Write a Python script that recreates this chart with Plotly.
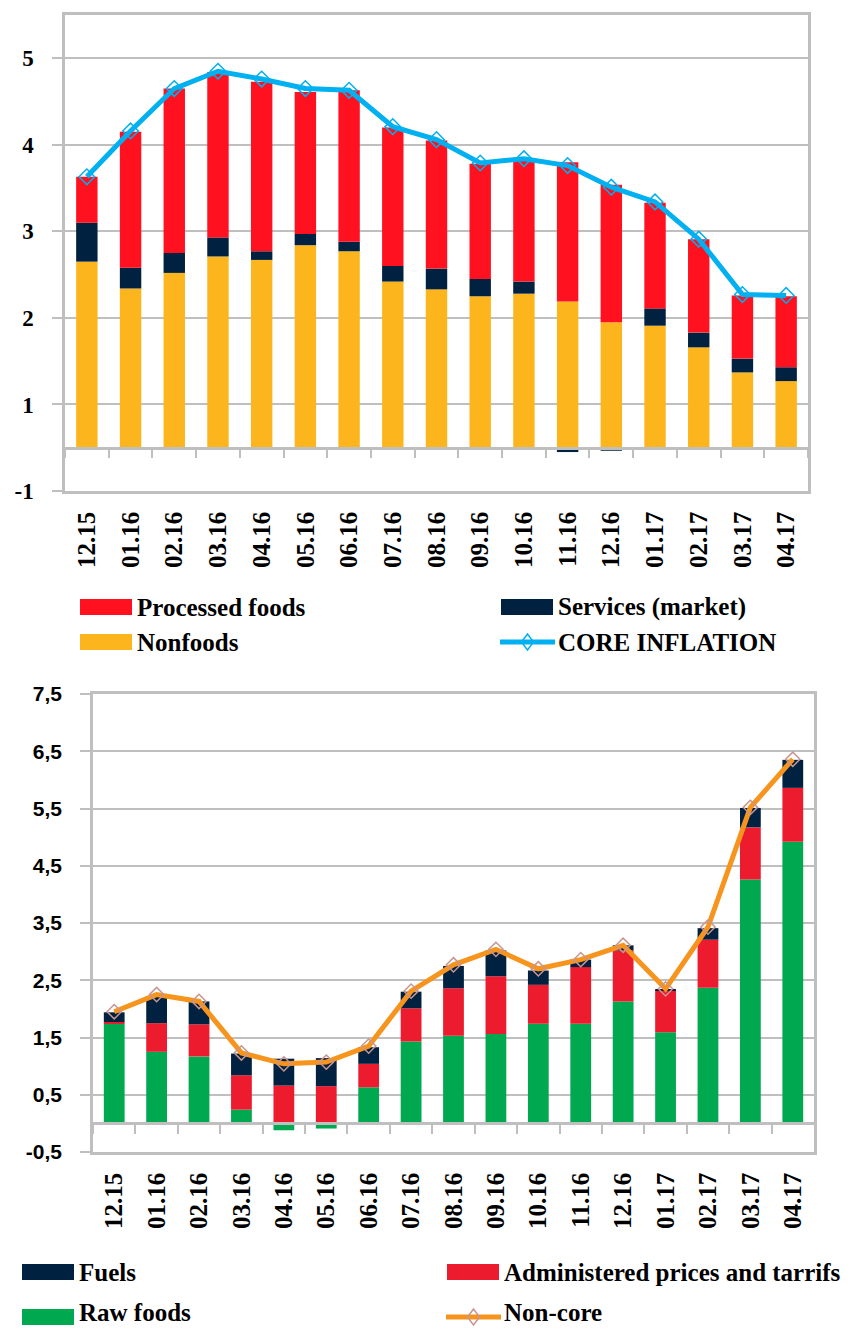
import plotly.graph_objects as go

W, H = 853, 1328

months = ['12.15', '01.16', '02.16', '03.16', '04.16', '05.16', '06.16', '07.16', '08.16',
          '09.16', '10.16', '11.16', '12.16', '01.17', '02.17', '03.17', '04.17']

# core inflation contributions (pp)
nonfoods = [2.15, 1.84, 2.02, 2.21, 2.17, 2.34, 2.27, 1.92, 1.83, 1.75, 1.78, 1.69, 1.45, 1.41, 1.16, 0.87, 0.77]
services = [0.45, 0.24, 0.23, 0.22, 0.10, 0.13, 0.11, 0.18, 0.24, 0.20, 0.14, -0.05, -0.035, 0.20, 0.17, 0.16, 0.16]
processed = [0.53, 1.57, 1.90, 1.91, 1.96, 1.64, 1.75, 1.60, 1.48, 1.33, 1.40, 1.61, 1.59, 1.22, 1.08, 0.73, 0.82]
core = [3.13, 3.66, 4.15, 4.35, 4.26, 4.15, 4.13, 3.71, 3.56, 3.29, 3.34, 3.26, 3.01, 2.84, 2.41, 1.77, 1.76]
core_ticks = [-0.5, 0.5, 1.5, 2.5, 3.5, 4.5]
core_ticktext = ['-1', '1', '2', '3', '4', '5']

# non-core contributions (pp)
raw_foods = [1.74, 1.25, 1.17, 0.24, -0.12, -0.09, 0.63, 1.43, 1.53, 1.56, 1.74, 1.74, 2.13, 1.59, 2.37, 4.26, 4.92]
administered = [0.03, 0.50, 0.56, 0.60, 0.66, 0.65, 0.41, 0.58, 0.83, 1.01, 0.68, 0.99, 0.89, 0.73, 0.84, 0.91, 0.94]
fuels = [0.17, 0.47, 0.40, 0.38, 0.47, 0.49, 0.29, 0.29, 0.39, 0.45, 0.25, 0.13, 0.09, 0.02, 0.20, 0.34, 0.49]
noncore = [1.95, 2.25, 2.13, 1.23, 1.04, 1.07, 1.35, 2.31, 2.77, 3.04, 2.70, 2.86, 3.11, 2.35, 3.43, 5.52, 6.36]
noncore_ticks = [-0.5, 0.5, 1.5, 2.5, 3.5, 4.5, 5.5, 6.5, 7.5]
noncore_ticktext = ['-0,5', '0,5', '1,5', '2,5', '3,5', '4,5', '5,5', '6,5', '7,5']

RED, YELLOW, NAVY, CYAN = '#FF1120', '#FDB51E', '#00213F', '#00B0F0'
GREEN, RED2, ORANGE, PINK = '#00A84F', '#EC1C2E', '#F7941D', '#C99591'
GRID = '#BFBFBF'
SERIF = 'Liberation Serif'
SANS = 'Liberation Sans'


def px(x):
    return x / W


def py(y):
    return 1 - y / H


top_dom_x = [px(65), px(808)]
top_dom_y = [py(491), py(15)]
top_range = [-0.5, 5.0]
bot_dom_x = [px(93), px(814)]
bot_dom_y = [py(1152), py(694)]
bot_range = [-0.5, 7.5]
cat_range = [-0.5, len(months) - 0.5]


def zero_pos(dom, rng):
    return dom[0] + (0 - rng[0]) / (rng[1] - rng[0]) * (dom[1] - dom[0])


fig = go.Figure()

# top chart
fig.add_trace(go.Bar(x=months, y=nonfoods, name='Nonfoods', marker_color=YELLOW, xaxis='x', yaxis='y'))
fig.add_trace(go.Bar(x=months, y=services, name='Services (market)', marker_color=NAVY, xaxis='x', yaxis='y'))
fig.add_trace(go.Bar(x=months, y=processed, name='Processed foods', marker_color=RED, xaxis='x', yaxis='y'))
fig.add_trace(go.Scatter(x=months, y=core, name='CORE INFLATION', mode='lines+markers',
                         line=dict(color=CYAN, width=5),
                         marker=dict(symbol='diamond-open', size=12, color=CYAN, line=dict(width=1.5)),
                         xaxis='x', yaxis='y'))
fig.add_trace(go.Scatter(x=months, y=[None] * len(months), showlegend=False, hoverinfo='skip',
                         xaxis='x3', yaxis='y'))

# bottom chart
fig.add_trace(go.Bar(x=months, y=raw_foods, name='Raw foods', marker_color=GREEN, xaxis='x2', yaxis='y2'))
fig.add_trace(go.Bar(x=months, y=administered, name='Administered prices and tarrifs', marker_color=RED2,
                     xaxis='x2', yaxis='y2'))
fig.add_trace(go.Bar(x=months, y=fuels, name='Fuels', marker_color=NAVY, xaxis='x2', yaxis='y2'))
fig.add_trace(go.Scatter(x=months, y=noncore, name='Non-core', mode='lines+markers',
                         line=dict(color=ORANGE, width=5),
                         marker=dict(symbol='diamond-open', size=11, color=PINK, line=dict(width=1.5)),
                         xaxis='x2', yaxis='y2'))
fig.add_trace(go.Scatter(x=months, y=[None] * len(months), showlegend=False, hoverinfo='skip',
                         xaxis='x4', yaxis='y2'))

fig.update_traces(marker_line_width=0, selector=dict(type='bar'))

xlab = dict(family=SERIF, size=25, color='black', weight='bold')
frame = dict(showline=True, mirror=True, linecolor=GRID, linewidth=2.5)
zero_axis = dict(type='category', range=cat_range, showline=True, linecolor=GRID, linewidth=2.5,
                 ticks='outside', tickson='boundaries', ticklen=9, tickwidth=2, tickcolor=GRID,
                 showticklabels=False, showgrid=False)

fig.update_layout(
    width=W, height=H,
    margin=dict(l=0, r=0, t=0, b=0, autoexpand=False),
    paper_bgcolor='white', plot_bgcolor='white',
    barmode='relative', bargap=0.51,
    showlegend=False,
    xaxis=dict(domain=top_dom_x, anchor='y', type='category', range=cat_range, tickangle=-90, ticks='',
               tickfont=xlab, ticklabelstandoff=8, showgrid=False, **frame),
    yaxis=dict(domain=top_dom_y, anchor='x', range=top_range, tickvals=core_ticks, ticktext=core_ticktext,
               tickfont=dict(family=SERIF, size=23, color='black', weight='bold'),
               ticks='outside', ticklen=10, tickwidth=2, tickcolor=GRID, ticklabelstandoff=14,
               showgrid=True, gridcolor=GRID, gridwidth=2, zeroline=False, **frame),
    xaxis3=dict(overlaying='x', anchor='free', position=zero_pos(top_dom_y, top_range), **zero_axis),
    xaxis2=dict(domain=bot_dom_x, anchor='y2', type='category', range=cat_range, tickangle=-90, ticks='',
                tickfont=xlab, ticklabelstandoff=8, showgrid=False, **frame),
    yaxis2=dict(domain=bot_dom_y, anchor='x2', range=bot_range, tickvals=noncore_ticks,
                ticktext=noncore_ticktext,
                tickfont=dict(family=SANS, size=21, color='black', weight='bold'),
                ticks='outside', ticklen=10, tickwidth=2, tickcolor=GRID, ticklabelstandoff=14,
                showgrid=True, gridcolor=GRID, gridwidth=2, zeroline=False, **frame),
    xaxis4=dict(overlaying='x2', anchor='free', position=zero_pos(bot_dom_y, bot_range), **zero_axis),
)

# legends drawn by hand (2 x 2 layout as in the original)
legfont = dict(family=SERIF, size=25, color='black', weight='bold')


def key_text(x, yc, text):
    # keep the label box inside the page at the very bottom
    fig.add_annotation(xref='paper', yref='paper', x=px(x), y=py(min(yc, H - 16)), text=text,
                       showarrow=False, xanchor='left', yanchor='middle', font=legfont)


def box_key(x0, yc, color, text):
    fig.add_shape(type='rect', xref='paper', yref='paper', x0=px(x0), x1=px(x0 + 52),
                  y0=py(yc + 8), y1=py(yc - 8), fillcolor=color, line_width=0)
    key_text(x0 + 55, yc, text)


def line_key(x0, yc, color, mcolor, text):
    fig.add_shape(type='line', xref='paper', yref='paper', x0=px(x0), x1=px(x0 + 55),
                  y0=py(yc), y1=py(yc), line=dict(color=color, width=5))
    cx = x0 + 27.5
    path = 'M {} {} L {} {} L {} {} L {} {} Z'.format(px(cx - 6), py(yc), px(cx), py(yc - 8),
                                                     px(cx + 6), py(yc), px(cx), py(yc + 8))
    fig.add_shape(type='path', xref='paper', yref='paper', path=path, line=dict(color=mcolor, width=1.5))
    key_text(x0 + 56, yc, text)


box_key(80, 607, RED, 'Processed foods')
box_key(501, 607, NAVY, 'Services (market)')
box_key(80, 642, YELLOW, 'Nonfoods')
line_key(500, 642, CYAN, CYAN, 'CORE INFLATION')

box_key(22, 1272, NAVY, 'Fuels')
box_key(447, 1272, RED2, 'Administered prices and tarrifs')
box_key(22, 1317, GREEN, 'Raw foods')
line_key(446, 1317, ORANGE, PINK, 'Non-core')

fig.write_html('out.html', config={'displayModeBar': False},
               post_script="document.body.style.margin='0';")
